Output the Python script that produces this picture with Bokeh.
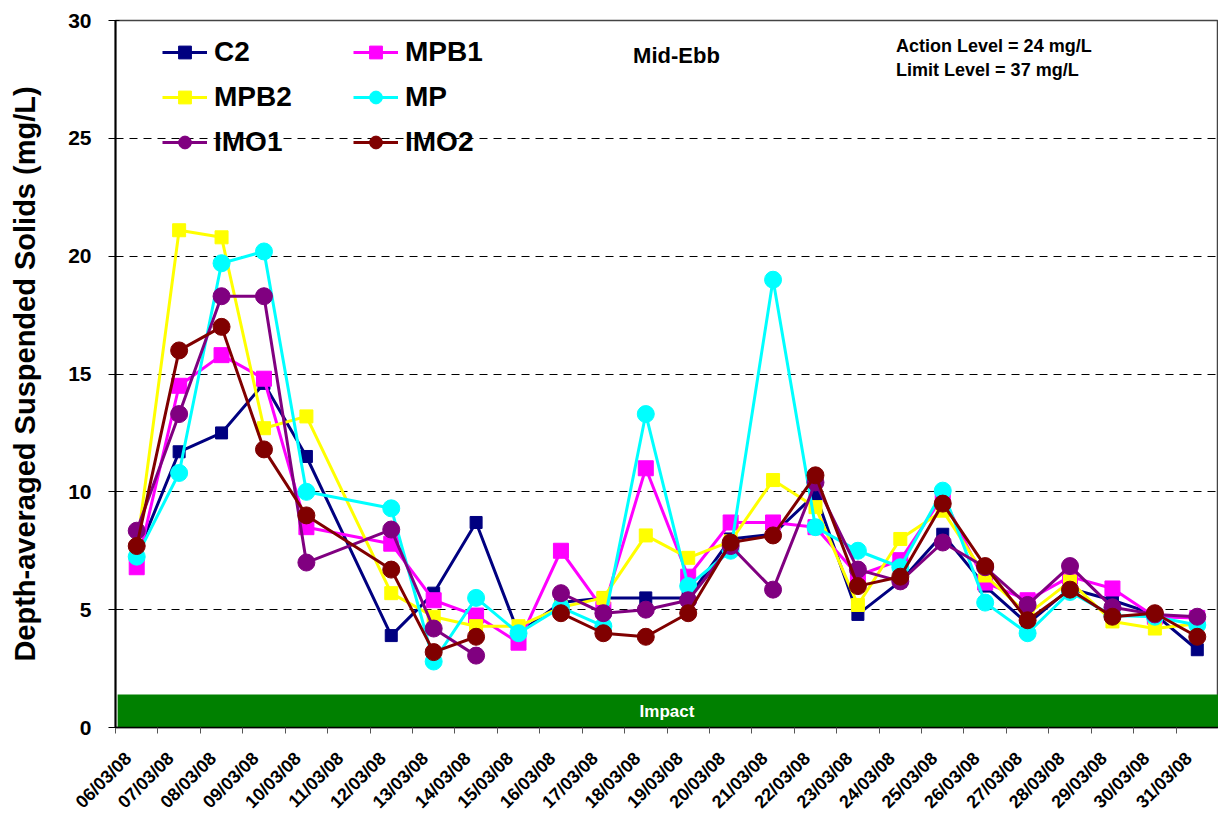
import math
from bokeh.plotting import figure
from bokeh.models import (FixedTicker, Legend, LegendItem, Label, Range1d, LinearAxis,
                          CustomJSTickFormatter)
from bokeh.core.properties import value
from bokeh.embed import file_html
from bokeh.resources import INLINE

# ---- axis labels (one per day) ----
axis_dates = ["06/03/08", "07/03/08", "08/03/08", "09/03/08", "10/03/08", "11/03/08",
              "12/03/08", "13/03/08", "14/03/08", "15/03/08", "16/03/08", "17/03/08",
              "18/03/08", "19/03/08", "20/03/08", "21/03/08", "22/03/08", "23/03/08",
              "24/03/08", "25/03/08", "26/03/08", "27/03/08", "28/03/08", "29/03/08",
              "30/03/08", "31/03/08"]

# ---- sampled dates (no survey on 11/03/08) ----
sample_dates = ["06/03/08", "07/03/08", "08/03/08", "09/03/08", "10/03/08",
                "12/03/08", "13/03/08", "14/03/08", "15/03/08", "16/03/08", "17/03/08",
                "18/03/08", "19/03/08", "20/03/08", "21/03/08", "22/03/08", "23/03/08",
                "24/03/08", "25/03/08", "26/03/08", "27/03/08", "28/03/08", "29/03/08",
                "30/03/08", "31/03/08"]

nan = float("nan")
C2   = [7.3, 11.7, 12.5, 14.6, 11.5, 3.9, 5.7, 8.7, 4.0, 5.3, 5.5, 5.5, 5.5, 8.0, 8.2, 9.9,
        4.8, 6.2, 8.2, 6.0, 4.4, 5.9, 5.4, 4.8, 3.3]
MPB1 = [6.8, 14.5, 15.8, 14.8, 8.5, 7.8, 5.4, 4.75, 3.6, 7.5, 5.0, 11.0, 6.4, 8.7, 8.7, 8.5,
        6.45, 7.1, 9.8, 6.15, 5.4, 6.4, 5.9, 4.7, 4.65]
MPB2 = [7.6, 21.1, 20.8, 12.7, 13.2, 5.7, 4.7, 4.3, 4.3, 5.1, 5.5, 8.15, 7.2, 7.9, 10.5, 9.35,
        5.2, 8.0, 9.2, 6.45, 4.8, 6.2, 4.5, 4.2, 4.4]
MP   = [7.25, 10.8, 19.7, 20.2, 10.0, 9.3, 2.8, 5.5, 4.0, 5.1, 4.3, 13.3, 6.0, 7.5, 19.0, 8.5,
        7.5, 6.8, 10.05, 5.3, 4.0, 5.75, 4.75, 4.7, 4.35]
IMO1 = [8.35, 13.3, 18.3, 18.3, 7.0, 8.4, 4.2, 3.05, nan, 5.7, 4.85, 5.0, 5.4, 7.7, 5.85, 10.4,
        6.7, 6.2, 7.85, 6.8, 5.2, 6.85, 5.1, 4.8, 4.7]
IMO2 = [7.7, 16.0, 17.0, 11.8, 9.0, 6.7, 3.2, 3.85, nan, 4.85, 4.0, 3.85, 4.85, 7.85, 8.15, 10.7,
        6.0, 6.4, 9.5, 6.85, 4.55, 5.85, 4.7, 4.85, 3.85]

impact_label = "Impact"
impact_level = 1.4

y_ticks = [0, 5, 10, 15, 20, 25, 30]

series = [
    ("C2", C2, "#000080", "square", 12),
    ("MPB1", MPB1, "#FF00FF", "square", 15),
    ("MPB2", MPB2, "#FFFF00", "square", 13),
    ("MP", MP, "#00FFFF", "circle", 17),
    ("IMO1", IMO1, "#800080", "circle", 17),
    ("IMO2", IMO2, "#800000", "circle", 17),
]

FONT = "Liberation Sans"

x_pos = [axis_dates.index(d) + 0.5 for d in sample_dates]
n_days = len(axis_dates)

p = figure(width=1218, height=823, output_backend="svg", toolbar_location=None,
           x_range=Range1d(0, n_days), y_range=Range1d(0, 30),
           min_border_left=115, min_border_right=0, min_border_top=20, min_border_bottom=96)

p.background_fill_color = "white"
p.outline_line_color = "#444444"
p.outline_line_width = 1.5

# Impact bar
p.quad(left=[0.05], right=[n_days], bottom=[0], top=[impact_level], fill_color="#008000",
       line_color=None)
p.text(x=[n_days / 2], y=[impact_level / 2], text=[impact_label], text_color="white",
       text_font=value(FONT), text_font_style="bold", text_font_size="17px",
       text_align="center", text_baseline="middle")

renders = {}
for name, vals, col, mk, sz in series:
    ln = p.line(x_pos, vals, line_color=col, line_width=3)
    sc = p.scatter(x_pos, vals, marker=mk, size=sz, fill_color=col, line_color=col)
    renders[name] = [ln, sc]

# legend in row-major order (Bokeh fills columns first)
legend_order = ["C2", "MPB2", "IMO1", "MPB1", "MP", "IMO2"]
items = [LegendItem(label=n, renderers=renders[n]) for n in legend_order]

# primary x axis: tick marks only
p.xaxis.ticker = FixedTicker(ticks=list(range(n_days + 1)))
p.xaxis.formatter = CustomJSTickFormatter(code="return ''")
p.xaxis.major_label_text_font_size = "1px"
p.xaxis.major_label_standoff = 0
p.xaxis.major_tick_out = 6
p.xaxis.major_tick_in = 0
p.xaxis.minor_tick_line_color = None
p.xaxis.axis_line_color = "black"
p.xaxis.axis_line_width = 1.5
p.xaxis.major_tick_line_color = "#555555"

# label axis: rotated date labels
lab_axis = LinearAxis(ticker=FixedTicker(ticks=[i + 0.3 for i in range(n_days)]),
                      formatter=CustomJSTickFormatter(args=dict(labels=axis_dates),
                                                      code="return labels[Math.floor(tick)] || ''"))
lab_axis.major_label_orientation = math.pi / 4
lab_axis.major_label_text_font = FONT
lab_axis.major_label_text_font_style = "bold"
lab_axis.major_label_text_font_size = "18px"
lab_axis.major_label_text_color = "black"
lab_axis.major_label_standoff = 16
lab_axis.axis_line_color = None
lab_axis.major_tick_line_color = None
lab_axis.minor_tick_line_color = None
p.add_layout(lab_axis, "below")

p.yaxis.ticker = FixedTicker(ticks=y_ticks)
p.yaxis.major_label_text_font = FONT
p.yaxis.major_label_text_font_style = "bold"
p.yaxis.major_label_text_font_size = "21px"
p.yaxis.major_label_text_color = "black"
p.yaxis.major_label_standoff = 17
p.yaxis.major_tick_out = 7
p.yaxis.major_tick_in = 4
p.yaxis.minor_tick_line_color = None
p.yaxis.axis_line_color = "black"
p.yaxis.axis_line_width = 2
p.yaxis.axis_label = "Depth-averaged Suspended Solids (mg/L)"
p.yaxis.axis_label_text_font = FONT
p.yaxis.axis_label_text_font_style = "bold"
p.yaxis.axis_label_text_font_size = "29px"
p.yaxis.axis_label_text_color = "black"
p.yaxis.axis_label_standoff = 24

p.xgrid.grid_line_color = None
p.ygrid.grid_line_color = "black"
p.ygrid.grid_line_dash = "8 6"
p.ygrid.grid_line_width = 1

legend = Legend(items=items, ncols=2, location=(47, 569))
legend.border_line_color = None
legend.background_fill_alpha = 0
legend.label_text_font = FONT
legend.label_text_font_style = "bold"
legend.label_text_font_size = "28px"
legend.label_text_color = "black"
legend.glyph_width = 45
legend.glyph_height = 32
legend.label_height = 32
legend.label_width = 126
legend.label_standoff = 7
legend.spacing = 13
legend.margin = 0
legend.padding = 0
p.add_layout(legend)

p.add_layout(Label(x=12.2, y=28.5, text="Mid-Ebb", text_font=FONT, text_font_style="bold",
                   text_font_size="22px", text_baseline="middle", text_color="black"))
p.add_layout(Label(x=18.4, y=28.9, text="Action Level = 24 mg/L", text_font=FONT,
                   text_font_style="bold", text_font_size="18px", text_baseline="middle",
                   text_color="black"))
p.add_layout(Label(x=18.4, y=27.92, text="Limit Level = 37 mg/L", text_font=FONT,
                   text_font_style="bold", text_font_size="18px", text_baseline="middle",
                   text_color="black"))

open("out.html", "w").write(file_html(p, INLINE))
